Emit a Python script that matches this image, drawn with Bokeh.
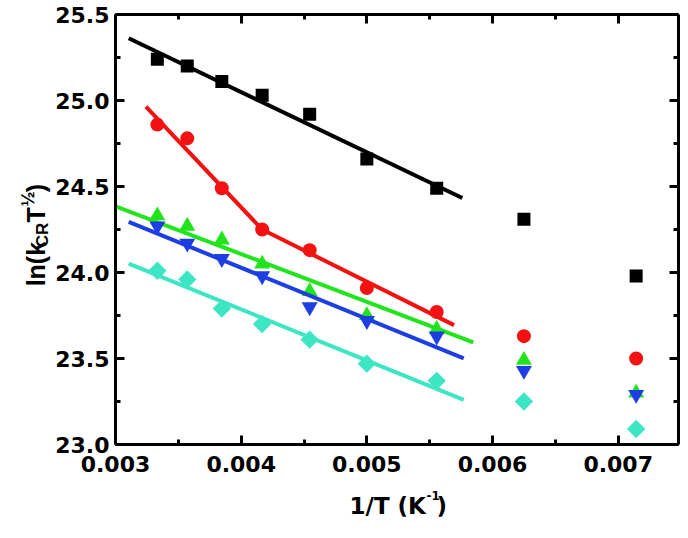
import math
from bokeh.plotting import figure
from bokeh.layouts import row, column
from bokeh.models import LinearAxis, FixedTicker, PrintfTickFormatter, Range1d
from bokeh.core.properties import value
from bokeh.embed import file_html
from bokeh.resources import INLINE

# ---------------- data ----------------
inv_T = [0.003333, 0.003571, 0.003846, 0.004167, 0.004545, 0.005000, 0.005556, 0.006250, 0.007143]

black_y = [25.24, 25.20, 25.11, 25.03, 24.92, 24.66, 24.49, 24.31, 23.98]
red_y = [24.86, 24.78, 24.49, 24.25, 24.13, 23.91, 23.77, 23.63, 23.50]
green_y = [24.33, 24.27, 24.19, 24.05, 23.89, 23.75, 23.67, 23.49, 23.30]
blue_y = [24.27, 24.17, 24.08, 23.98, 23.80, 23.72, 23.63, 23.43, 23.29]
cyan_y = [24.01, 23.96, 23.79, 23.70, 23.61, 23.47, 23.37, 23.25, 23.09]

# fitted lines
black_fit_x = [0.003105, 0.005760]
black_fit_y = [25.362, 24.433]
red_fit_x = [0.003242, 0.004167, 0.005694]
red_fit_y = [24.965, 24.250, 23.694]
green_fit_x = [0.003000, 0.005847]
green_fit_y = [24.385, 23.594]
blue_fit_x = [0.003105, 0.005771]
blue_fit_y = [24.294, 23.501]
cyan_fit_x = [0.003105, 0.005771]
cyan_fit_y = [24.052, 23.259]

x_ticks = [0.003, 0.004, 0.005, 0.006, 0.007]
x_minor = [0.0035, 0.0045, 0.0055, 0.0065]
y_ticks = [23.0, 23.5, 24.0, 24.5, 25.0, 25.5]
y_minor = [23.25, 23.75, 24.25, 24.75, 25.25]

# axis titles split into pieces (normal / subscript / superscript)
x_title_parts = ["1/T (K", "-1", ")"]
y_title_parts = ["ln(k", "CR", "T", "½", ")"]

X0, X1 = 0.003, 0.00748
Y0, Y1 = 23.0, 25.5

BLACK = "#000000"
RED = "#f21212"
GREEN = "#22e41c"
BLUE = "#1c3ee2"
CYAN = "#3ce6c4"

# overall geometry (page pixels)
W, H = 680, 530
FL, FR, FT, FB = 114, 678, 14, 444   # plot frame
YT_W = 52                            # strip for y title
MAIN_H = 484                         # main plot height (frame + tick labels)

TICK_FONT = "DejaVu Sans"


def blank_fig(w, h):
    f = figure(width=w, height=h, output_backend="svg", toolbar_location=None,
               x_range=Range1d(0, w), y_range=Range1d(h, 0),
               min_border=0, x_axis_type=None, y_axis_type=None)
    f.min_border_left = f.min_border_right = f.min_border_top = f.min_border_bottom = 0
    f.grid.visible = False
    f.outline_line_color = None
    f.background_fill_color = "white"
    f.border_fill_color = "white"
    return f


# ---------------- main figure ----------------
p = figure(width=W - YT_W, height=MAIN_H, output_backend="svg", toolbar_location=None,
           x_range=Range1d(X0, X1), y_range=Range1d(Y0, Y1),
           min_border_left=FL - YT_W, min_border_right=W - FR, min_border_top=FT,
           min_border_bottom=MAIN_H - FB,
           x_axis_type=None, y_axis_type=None)
p.grid.visible = False
p.outline_line_color = None
p.background_fill_color = "white"
p.border_fill_color = "white"


def style_axis(ax, ticks, minor, fmt, show_labels, standoff):
    ax.ticker = FixedTicker(ticks=ticks, minor_ticks=minor)
    ax.formatter = PrintfTickFormatter(format=fmt)
    ax.axis_line_width = 3
    ax.axis_line_color = "black"
    ax.major_tick_line_width = 3
    ax.minor_tick_line_width = 3
    ax.major_tick_in = 9
    ax.major_tick_out = 0
    ax.minor_tick_in = 5
    ax.minor_tick_out = 0
    ax.major_label_text_font = TICK_FONT
    ax.major_label_text_font_style = "bold"
    ax.major_label_text_color = "black"
    ax.major_label_text_font_size = "22px"
    ax.major_label_standoff = standoff
    if not show_labels:
        ax.major_label_overrides = {t: "" for t in ticks}
        ax.major_label_text_font_size = "8px"
        ax.major_label_standoff = 0
    ax.axis_label = None


xb = LinearAxis()
style_axis(xb, x_ticks, x_minor, "%.3f", True, 11)
p.add_layout(xb, "below")
xt = LinearAxis()
style_axis(xt, x_ticks, x_minor, "%.3f", False, 0)
p.add_layout(xt, "above")
yl = LinearAxis()
style_axis(yl, y_ticks, y_minor, "%.1f", True, 6)
p.add_layout(yl, "left")
yr = LinearAxis()
style_axis(yr, y_ticks, y_minor, "%.1f", False, 0)
p.add_layout(yr, "right")

# ---------------- series ----------------
LW = 4
p.line(black_fit_x, black_fit_y, line_color=BLACK, line_width=LW)
p.scatter(inv_T, black_y, marker="square", size=13, fill_color=BLACK, line_color=None)

p.line(red_fit_x, red_fit_y, line_color=RED, line_width=LW)
p.scatter(inv_T, red_y, marker="circle", size=14, fill_color=RED, line_color=None)

p.line(green_fit_x, green_fit_y, line_color=GREEN, line_width=LW)
p.scatter(inv_T, green_y, marker="triangle", size=16, fill_color=GREEN, line_color=None)

p.line(blue_fit_x, blue_fit_y, line_color=BLUE, line_width=LW)
p.scatter(inv_T, blue_y, marker="inverted_triangle", size=16, fill_color=BLUE, line_color=None)

p.line(cyan_fit_x, cyan_fit_y, line_color=CYAN, line_width=LW)
p.scatter(inv_T, cyan_y, marker="square", angle=math.pi / 4, size=13, fill_color=CYAN, line_color=None)

# ---------------- y title strip ----------------
yfig = blank_fig(YT_W, MAIN_H)
R = math.pi / 2
y_piece_x = [35, 42, 35, 27, 35]
y_piece_y = [306, 262, 234, 216, 200]
y_piece_size = ["25px", "17px", "25px", "18px", "25px"]
for tx, ty, tt, ts in zip(y_piece_x, y_piece_y, y_title_parts, y_piece_size):
    yfig.text(x=[tx], y=[ty], text=[tt], angle=R,
              text_font=value("Liberation Sans"), text_font_style="bold",
              text_font_size=value(ts), text_color="black",
              text_align="left", text_baseline="alphabetic")

# ---------------- x title strip ----------------
xfig = blank_fig(W, H - MAIN_H)
x_piece_x = [349, 426, 436]
x_piece_y = [505 - MAIN_H, 495 - MAIN_H, 505 - MAIN_H]
x_piece_size = ["23px", "12px", "23px"]
for tx, ty, tt, ts in zip(x_piece_x, x_piece_y, x_title_parts, x_piece_size):
    xfig.text(x=[tx], y=[ty], text=[tt],
              text_font=value(TICK_FONT), text_font_style="bold",
              text_font_size=value(ts), text_color="black",
              text_align="left", text_baseline="alphabetic")

layout = column(row(yfig, p, spacing=0), xfig, spacing=0)
open("out.html", "w").write(file_html(layout, INLINE))
